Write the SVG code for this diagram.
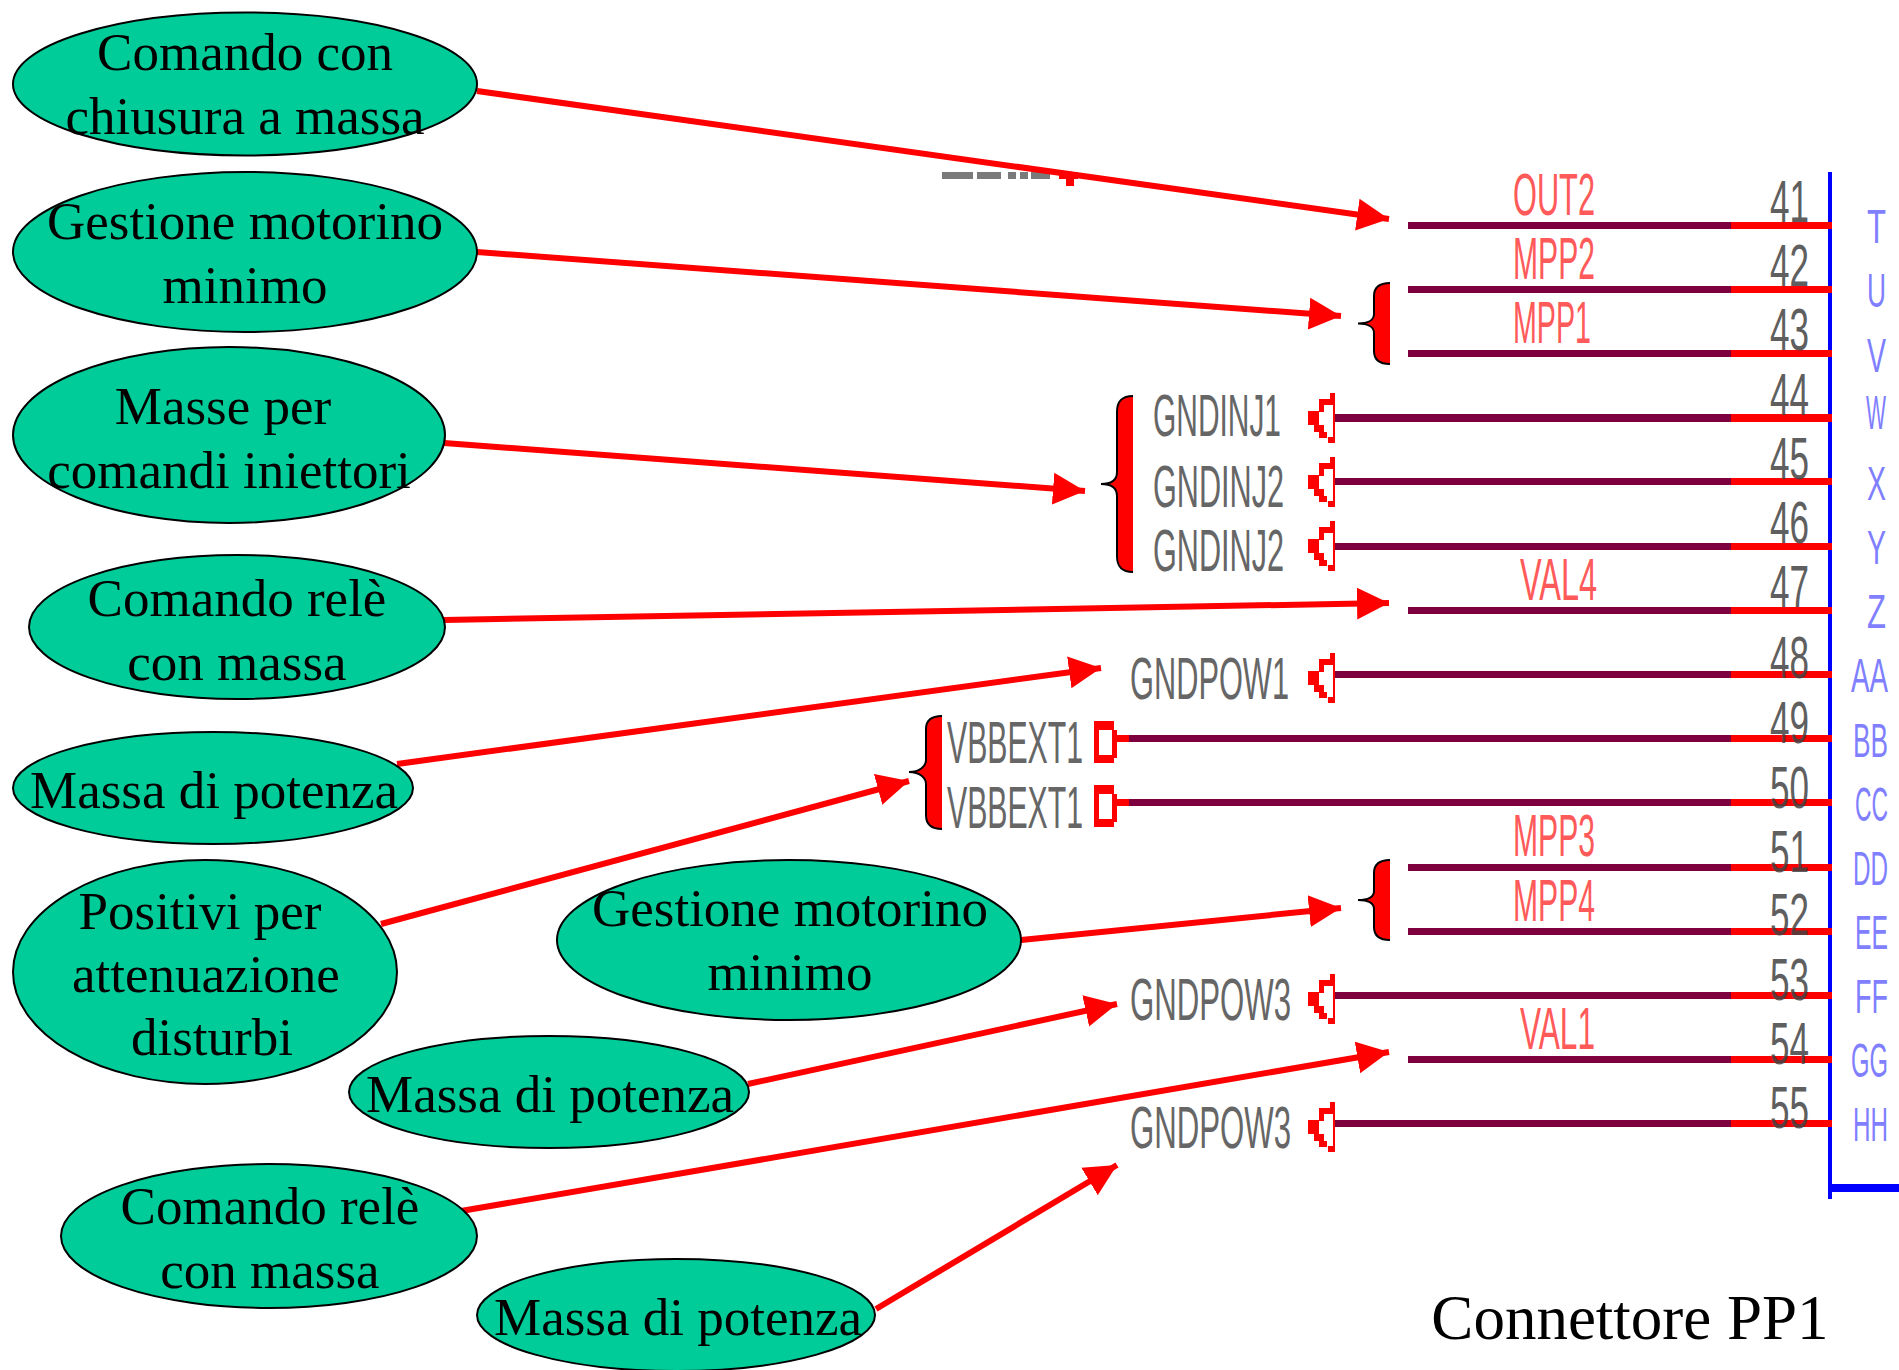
<svg xmlns="http://www.w3.org/2000/svg" width="1899" height="1370" viewBox="0 0 1899 1370">
<style>
.bg{fill:#fff}
.n ellipse{fill:#00cc99;stroke:#000;stroke-width:2}
.n text,.cap{font-family:"Liberation Serif","Times New Roman",serif;font-size:53px;fill:#000;text-anchor:middle}
.cap{font-size:63px}
.w{fill:#7f003f}
.r{fill:#f00}
.b{fill:#00f}
.l{font-family:"Liberation Sans",Arial,sans-serif;font-size:60px;stroke-width:0}
.sig{fill:#ff5a5a}
.g{fill:#666}
.num{fill:#444;opacity:.85}
.pin{fill:#7f7fff;font-size:48px}
.brace{fill:#f00;stroke:#000;stroke-width:2}
.a{stroke:#f00;stroke-width:6;fill:none;marker-end:url(#ah)}
</style>
<defs>
<marker id="ah" markerUnits="userSpaceOnUse" markerWidth="34" markerHeight="34" refX="32" refY="17" orient="auto"><path d="M0 1L32 17L0 33Z" fill="#f00"/></marker>
<g id="tri" fill="#f00">
<rect x="-2" y="-25" width="2" height="50"/><rect x="-5" y="-25" width="5" height="7"/><rect x="-16" y="-19" width="16" height="6"/><rect x="-16" y="-13" width="5" height="7"/><rect x="-27" y="-7" width="11" height="14"/><rect x="-21" y="-7" width="5" height="14"/><rect x="-21" y="7" width="10" height="7"/><rect x="-16" y="14" width="8" height="6"/><rect x="-7" y="19" width="7" height="6"/>
</g>
<g id="sq" fill="#f00">
<rect x="-23" y="-17" width="20" height="9"/><rect x="-23" y="-17" width="5" height="42"/><rect x="-5" y="-8" width="5" height="28"/><rect x="-23" y="17" width="20" height="8"/><rect x="-5" y="-3" width="17" height="7"/>
</g>
</defs>
<rect class="bg" width="1899" height="1370"/>

<g id="pinout">
<g fill="#7a7a7a"><rect x="942" y="172" width="31" height="7"/><rect x="977" y="172" width="24" height="7"/><rect x="1008" y="172" width="8" height="7"/><rect x="1020" y="172" width="8" height="7"/><rect x="1031" y="172" width="19" height="7"/></g>
<g class="r"><rect x="1059" y="172" width="19" height="7"/><rect x="1066" y="179" width="8" height="7"/></g>
<rect class="b" x="1828" y="172" width="4" height="1027"/>
<rect class="b" x="1830" y="1184" width="69" height="8"/>
<g class="w">
<rect x="1408" y="222" width="323" height="7"/><rect x="1408" y="286" width="323" height="7"/><rect x="1408" y="350" width="323" height="7"/>
<rect x="1335" y="414" width="396" height="8"/><rect x="1335" y="478" width="396" height="7"/><rect x="1335" y="543" width="396" height="7"/>
<rect x="1408" y="607" width="323" height="7"/><rect x="1335" y="671" width="396" height="7"/><rect x="1129" y="735" width="602" height="7"/><rect x="1129" y="799" width="602" height="7"/>
<rect x="1408" y="864" width="323" height="7"/><rect x="1408" y="928" width="323" height="7"/><rect x="1335" y="992" width="396" height="7"/><rect x="1408" y="1056" width="323" height="7"/><rect x="1335" y="1120" width="396" height="7"/>
</g>
<g class="r">
<rect x="1731" y="222" width="101" height="7"/><rect x="1731" y="286" width="101" height="7"/><rect x="1731" y="350" width="101" height="7"/><rect x="1731" y="414" width="101" height="8"/><rect x="1731" y="478" width="101" height="7"/><rect x="1731" y="543" width="101" height="7"/><rect x="1731" y="607" width="101" height="7"/><rect x="1731" y="671" width="101" height="7"/><rect x="1731" y="735" width="101" height="7"/><rect x="1731" y="799" width="101" height="7"/><rect x="1731" y="864" width="101" height="7"/><rect x="1731" y="928" width="101" height="7"/><rect x="1731" y="992" width="101" height="7"/><rect x="1731" y="1056" width="101" height="7"/><rect x="1731" y="1120" width="101" height="7"/>
</g>
<use href="#tri" x="1335" y="418"/><use href="#tri" x="1335" y="482"/><use href="#tri" x="1335" y="546"/><use href="#tri" x="1335" y="678"/><use href="#tri" x="1335" y="999"/><use href="#tri" x="1335" y="1127"/>
<use href="#sq" x="1117" y="738"/><use href="#sq" x="1117" y="802"/>

<path class="brace" d="M1390 283C1378 283 1374 288 1374 296V314C1374 320 1368 323.5 1358 323.5C1368 323.5 1374 327 1374 333V351C1374 359 1378 364 1390 364"/>
<path class="brace" d="M1133 396C1121 396 1117 402 1117 412V472C1117 480 1111 484 1101 484C1111 484 1117 488 1117 496V556C1117 566 1121 572 1133 572"/>
<path class="brace" d="M942 716C930 716 926 721 926 729V760C926 766 920 772 909 772C920 772 926 778 926 784V815C926 823 930 829 942 829"/>
<path class="brace" d="M1390 860C1378 860 1374 865 1374 873V891C1374 897 1368 900 1358 900C1368 900 1374 903 1374 909V927C1374 935 1378 940 1390 940"/>

<g class="l sig">
<text x="1513" y="215" textLength="82" lengthAdjust="spacingAndGlyphs">OUT2</text>
<text x="1513" y="279" textLength="82" lengthAdjust="spacingAndGlyphs">MPP2</text>
<text x="1513" y="343" textLength="78" lengthAdjust="spacingAndGlyphs">MPP1</text>
<text x="1520" y="600" textLength="77" lengthAdjust="spacingAndGlyphs">VAL4</text>
<text x="1513" y="856" textLength="82" lengthAdjust="spacingAndGlyphs">MPP3</text>
<text x="1513" y="921" textLength="82" lengthAdjust="spacingAndGlyphs">MPP4</text>
<text x="1520" y="1049" textLength="75" lengthAdjust="spacingAndGlyphs">VAL1</text>
</g>
<g class="l g">
<text x="1153" y="436" textLength="128" lengthAdjust="spacingAndGlyphs">GNDINJ1</text>
<text x="1153" y="507" textLength="131" lengthAdjust="spacingAndGlyphs">GNDINJ2</text>
<text x="1153" y="571" textLength="131" lengthAdjust="spacingAndGlyphs">GNDINJ2</text>
<text x="1130" y="699" textLength="159" lengthAdjust="spacingAndGlyphs">GNDPOW1</text>
<text x="947" y="763" textLength="136" lengthAdjust="spacingAndGlyphs">VBBEXT1</text>
<text x="947" y="828" textLength="136" lengthAdjust="spacingAndGlyphs">VBBEXT1</text>
<text x="1130" y="1020" textLength="161" lengthAdjust="spacingAndGlyphs">GNDPOW3</text>
<text x="1130" y="1148" textLength="161" lengthAdjust="spacingAndGlyphs">GNDPOW3</text>
</g>
<g class="l num">
<text x="1770" y="222" textLength="39" lengthAdjust="spacingAndGlyphs">41</text>
<text x="1770" y="286" textLength="39" lengthAdjust="spacingAndGlyphs">42</text>
<text x="1770" y="350" textLength="39" lengthAdjust="spacingAndGlyphs">43</text>
<text x="1770" y="415" textLength="39" lengthAdjust="spacingAndGlyphs">44</text>
<text x="1770" y="479" textLength="39" lengthAdjust="spacingAndGlyphs">45</text>
<text x="1770" y="543" textLength="39" lengthAdjust="spacingAndGlyphs">46</text>
<text x="1770" y="607" textLength="39" lengthAdjust="spacingAndGlyphs">47</text>
<text x="1770" y="678" textLength="39" lengthAdjust="spacingAndGlyphs">48</text>
<text x="1770" y="743" textLength="39" lengthAdjust="spacingAndGlyphs">49</text>
<text x="1770" y="808" textLength="39" lengthAdjust="spacingAndGlyphs">50</text>
<text x="1770" y="872" textLength="39" lengthAdjust="spacingAndGlyphs">51</text>
<text x="1770" y="935" textLength="39" lengthAdjust="spacingAndGlyphs">52</text>
<text x="1770" y="1000" textLength="39" lengthAdjust="spacingAndGlyphs">53</text>
<text x="1770" y="1064" textLength="39" lengthAdjust="spacingAndGlyphs">54</text>
<text x="1770" y="1128" textLength="39" lengthAdjust="spacingAndGlyphs">55</text>
</g>
<g class="l pin">
<text x="1867" y="243" textLength="19" lengthAdjust="spacingAndGlyphs">T</text>
<text x="1867" y="307" textLength="19" lengthAdjust="spacingAndGlyphs">U</text>
<text x="1867" y="372" textLength="19" lengthAdjust="spacingAndGlyphs">V</text>
<text x="1866" y="429" textLength="20" lengthAdjust="spacingAndGlyphs">W</text>
<text x="1867" y="500" textLength="19" lengthAdjust="spacingAndGlyphs">X</text>
<text x="1867" y="564" textLength="19" lengthAdjust="spacingAndGlyphs">Y</text>
<text x="1867" y="628" textLength="19" lengthAdjust="spacingAndGlyphs">Z</text>
<text x="1851" y="692" textLength="37" lengthAdjust="spacingAndGlyphs">AA</text>
<text x="1853" y="757" textLength="35" lengthAdjust="spacingAndGlyphs">BB</text>
<text x="1855" y="821" textLength="33" lengthAdjust="spacingAndGlyphs">CC</text>
<text x="1853" y="885" textLength="35" lengthAdjust="spacingAndGlyphs">DD</text>
<text x="1855" y="949" textLength="33" lengthAdjust="spacingAndGlyphs">EE</text>
<text x="1855" y="1013" textLength="33" lengthAdjust="spacingAndGlyphs">FF</text>
<text x="1851" y="1077" textLength="37" lengthAdjust="spacingAndGlyphs">GG</text>
<text x="1853" y="1141" textLength="35" lengthAdjust="spacingAndGlyphs">HH</text>
</g>
</g>

<g id="connectors">
<path class="a" d="M477 91L1389 219"/>
<path class="a" d="M477 252L1341 316"/>
<path class="a" d="M444 443L1085 491"/>
<path class="a" d="M444 620L1389 603"/>
<path class="a" d="M397 764L1101 668"/>
<path class="a" d="M381 924L909 781"/>
<path class="a" d="M1021 940L1341 908"/>
<path class="a" d="M748 1084L1117 1004"/>
<path class="a" d="M461 1211L1389 1052"/>
<path class="a" d="M876 1309L1117 1165"/>
</g>

<g id="n1" class="n"><ellipse cx="245" cy="84" rx="232" ry="71.5"/><text x="245" y="70">Comando con</text><text x="245" y="134">chiusura a massa</text></g>
<g id="n2" class="n"><ellipse cx="245" cy="252" rx="232" ry="80"/><text x="245" y="239">Gestione motorino</text><text x="245" y="303">minimo</text></g>
<g id="n3" class="n"><ellipse cx="229" cy="435" rx="216" ry="88"/><text x="223" y="424">Masse per</text><text x="229" y="488">comandi iniettori</text></g>
<g id="n4" class="n"><ellipse cx="237" cy="627" rx="208" ry="72"/><text x="237" y="616">Comando relè</text><text x="237" y="680">con massa</text></g>
<g id="n5" class="n"><ellipse cx="213" cy="788" rx="200" ry="56"/><text x="214" y="808">Massa di potenza</text></g>
<g id="n6" class="n"><ellipse cx="205" cy="972" rx="192" ry="112"/><text x="200" y="929">Positivi per</text><text x="206" y="992">attenuazione</text><text x="212" y="1055">disturbi</text></g>
<g id="n7" class="n"><ellipse cx="789" cy="940" rx="232" ry="80"/><text x="790" y="926">Gestione motorino</text><text x="790" y="990">minimo</text></g>
<g id="n8" class="n"><ellipse cx="549" cy="1092" rx="200" ry="56"/><text x="550" y="1112">Massa di potenza</text></g>
<g id="n9" class="n"><ellipse cx="269" cy="1236" rx="208" ry="72"/><text x="270" y="1224">Comando relè</text><text x="270" y="1288">con massa</text></g>
<g id="n10" class="n"><ellipse cx="676" cy="1315" rx="199" ry="56"/><text x="678" y="1335">Massa di potenza</text></g>
<text class="cap" x="1630" y="1339">Connettore PP1</text>
</svg>
